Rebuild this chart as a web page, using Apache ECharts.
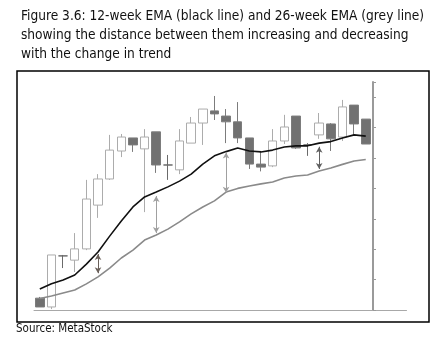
<!DOCTYPE html>
<html>
<head>
<meta charset="utf-8">
<script src="https://cdn.jsdelivr.net/npm/echarts@6/dist/echarts.min.js"></script>
<style>
  html, body { margin: 0; padding: 0; background: #fff; }
  #chart { width: 435px; height: 347px; }
</style>
</head>
<body>
<div id="chart"></div>
<script>
// weekly bars, 29 weeks (+3 empty slots on the right)
var weeks = [];
for (var i = 1; i <= 32; i++) weeks.push('W' + i);

// [open, close, low, high]
var candles = [
  [3.9, 1.0, 1.0, 4.3],
  [1.0, 18.1, 0.3, 18.1],
  [17.8, 17.8, 13.8, 18.1],
  [16.4, 20.1, 12.5, 25.3],
  [20.1, 36.5, 19.7, 42.8],
  [34.5, 43.1, 30.3, 44.7],
  [43.1, 52.6, 42.8, 57.6],
  [52.3, 56.9, 50.3, 57.9],
  [56.6, 54.3, 52.0, 56.6],
  [53.0, 56.9, 32.2, 59.5],
  [58.6, 47.7, 45.1, 58.6],
  [47.7, 47.7, 42.8, 51.0],
  [46.1, 55.6, 44.7, 59.5],
  [54.9, 61.5, 54.9, 63.5],
  [61.5, 66.1, 54.3, 66.1],
  [65.5, 64.5, 62.5, 70.4],
  [63.8, 61.9, 54.9, 66.1],
  [61.9, 56.6, 54.9, 68.4],
  [56.6, 48.0, 46.4, 56.6],
  [48.0, 47.0, 45.6, 52.0],
  [47.4, 55.6, 47.0, 59.5],
  [55.6, 60.2, 54.6, 64.2],
  [63.8, 53.3, 53.0, 63.8],
  [54.3, 54.3, 50.7, 54.9],
  [57.6, 61.5, 56.3, 64.8],
  [61.2, 56.3, 52.3, 61.5],
  [56.9, 66.8, 55.6, 69.1],
  [67.4, 61.2, 57.6, 67.4],
  [62.8, 54.6, 54.6, 62.8]
];

var ema12 = [6.9, 8.6, 9.9, 11.5, 15.1, 19.1, 24.3, 29.3, 33.9, 37.2,
  38.8, 40.5, 42.4, 44.7, 48.0, 50.7, 52.1, 53.3, 52.3, 52.0,
  52.6, 53.6, 54.0, 54.0, 54.9, 55.4, 56.6, 57.6, 57.2];

var ema26 = [3.8, 4.6, 5.6, 6.6, 8.6, 10.9, 13.8, 17.1, 19.7, 23.0,
  24.7, 26.6, 29.0, 31.6, 33.9, 35.9, 38.8, 40.0, 40.8, 41.5,
  42.1, 43.4, 44.1, 44.4, 45.7, 46.7, 47.9, 49.0, 49.5];

// distance arrows: week index, top, bottom
var gapWeeks = [5, 10, 16, 24];
var gapTop = [18.4, 37.5, 51.8, 53.7];
var gapBottom = [12.1, 25.3, 38.6, 46.4];
var gapColors = ['#6a605a', '#a0a0a0', '#a0a0a0', '#606060'];

// month ticks under the x axis
var tickWeeks = [2, 7, 11, 15, 20, 24, 28];

var arrows = gapWeeks.map(function (w, k) {
  return [
    { coord: [w, gapTop[k]], lineStyle: { color: gapColors[k] }, itemStyle: { color: gapColors[k] } },
    { coord: [w, gapBottom[k]] }
  ];
});

var narrow = "'Liberation Sans Narrow', 'DejaVu Sans Condensed', Roboto, sans-serif";

var chart = echarts.init(document.getElementById('chart'));
chart.setOption({
  animation: false,
  title: {
    text: 'Figure 3.6: 12-week EMA (black line) and 26-week EMA (grey line)\nshowing the distance between them increasing and decreasing\nwith the change in trend',
    left: 16,
    top: 2,
    textStyle: {
      fontFamily: narrow,
      fontWeight: 'normal',
      fontSize: 13.6,
      lineHeight: 19,
      color: '#111'
    }
  },
  graphic: [
    {
      type: 'rect',
      shape: { x: 17, y: 71, width: 412, height: 251 },
      style: { fill: null, stroke: '#000', lineWidth: 1.5 },
      silent: true
    },
    {
      type: 'text',
      left: 16,
      top: 323,
      style: {
        text: 'Source: MetaStock',
        font: '11.5px ' + narrow,
        fill: '#111'
      }
    }
  ],
  grid: { left: 34, right: 28.5, top: 82, bottom: 37 },
  xAxis: {
    type: 'category',
    data: weeks,
    boundaryGap: true,
    axisLine: { lineStyle: { color: '#a8a8a8', width: 1 } },
    axisTick: {
      alignWithLabel: true,
      length: 3,
      interval: function (idx) { return tickWeeks.indexOf(idx) >= 0; },
      lineStyle: { color: '#a8a8a8' }
    },
    axisLabel: { show: false },
    splitLine: { show: false }
  },
  yAxis: {
    type: 'value',
    position: 'right',
    offset: -33.5,
    min: 0,
    max: 75,
    interval: 10,
    axisLine: { show: true, lineStyle: { color: '#9a9a9a', width: 2 } },
    axisTick: { show: true, length: 3, lineStyle: { color: '#9a9a9a' } },
    axisLabel: { show: false },
    splitLine: { show: false }
  },
  series: [
    {
      name: 'price',
      type: 'candlestick',
      data: candles,
      barWidth: 9,
      itemStyle: {
        color: '#ffffff',
        borderColor: '#acacac',
        color0: '#717171',
        borderColor0: '#7c7c7c',
        borderColorDoji: '#6a6a6a',
        borderWidth: 1
      }
    },
    {
      name: '26-week EMA',
      type: 'line',
      data: ema26,
      symbol: 'none',
      lineStyle: { color: '#8a8a8a', width: 1.6 },
      z: 3,
      markLine: {
        silent: true,
        symbol: ['arrow', 'arrow'],
        symbolSize: [5, 6],
        label: { show: false },
        lineStyle: { type: 'solid', width: 1 },
        data: arrows
      }
    },
    {
      name: '12-week EMA',
      type: 'line',
      data: ema12,
      symbol: 'none',
      lineStyle: { color: '#111', width: 1.6 },
      z: 4
    }
  ]
});
</script>
</body>
</html>
